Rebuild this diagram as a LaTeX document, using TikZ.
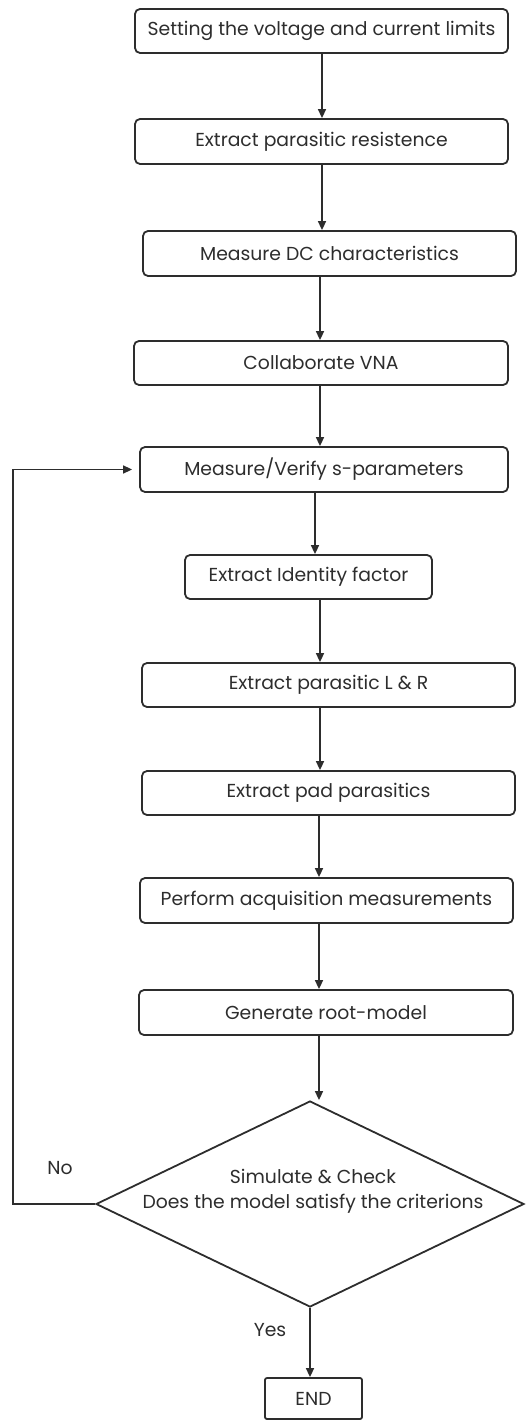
\documentclass[tikz,border=0pt]{standalone}
\usepackage{fontspec}
\setmainfont{Poppins}
\usetikzlibrary{arrows.meta,shapes.geometric}
\definecolor{ink}{RGB}{45,45,45}
\tikzset{
  stepbox/.style={draw=ink, text=ink, line width=0.9pt, rounded corners=2.5pt, inner sep=0pt, align=center, font=\fontsize{9.4}{11}\selectfont},
  flow/.style={draw=ink, line width=0.8pt, -{Triangle[length=4.5pt,width=4pt]}},
  lbl/.style={text=ink, font=\fontsize{9.4}{12.5}\selectfont, inner sep=0pt}
}
\begin{document}
\begin{tikzpicture}[x=0.5pt,y=-0.5pt]
\useasboundingbox (0,0) rectangle (531,1422);
\node[stepbox, minimum width=186.5pt, minimum height=22pt] (b1) at (321.5,31) {Setting the voltage and current limits};
\node[stepbox, minimum width=186.5pt, minimum height=22.5pt] (b2) at (321.5,141.5) {Extract parasitic resistence};
\node[stepbox, minimum width=186.5pt, minimum height=22.5pt] (b3) at (329.5,253.5) {Measure DC characteristics};
\node[stepbox, minimum width=187pt, minimum height=22pt] (b4) at (321,363) {Collaborate VNA};
\node[stepbox, minimum width=184pt, minimum height=22.5pt] (b5) at (324,469.5) {Measure/Verify s-parameters};
\node[stepbox, minimum width=123.5pt, minimum height=22pt] (b6) at (308.5,577) {Extract Identity factor};
\node[stepbox, minimum width=186.5pt, minimum height=22pt] (b7) at (328.5,685) {Extract parasitic L \& R};
\node[stepbox, minimum width=186.5pt, minimum height=22pt] (b8) at (328.5,793) {Extract pad parasitics};
\node[stepbox, minimum width=186.5pt, minimum height=22.5pt] (b9) at (326.5,900.5) {Perform acquisition measurements};
\node[stepbox, minimum width=187pt, minimum height=22.5pt] (b10) at (326,1012.5) {Generate root-model};
\node[diamond, draw=ink, line width=0.9pt, inner sep=0pt, minimum width=214pt, minimum height=103pt] (dia) at (310,1204) {};
\node[lbl, align=center] (dt) at (313,1191) {Simulate \& Check\\Does the model satisfy the criterions};
\node[stepbox, rounded corners=1pt, minimum width=48.5pt, minimum height=20.5pt] (end) at (313.5,1398.5) {END};
\node[lbl] (no) at (60,1168) {No};
\node[lbl] (yes) at (270,1330) {Yes};
\coordinate (c1) at (13,1204);
\draw[flow] (b1.south -| 322,0) -- (b2.north -| 322,0);
\draw[flow] (b2.south -| 322,0) -- (b3.north -| 322,0);
\draw[flow] (b3.south -| 320,0) -- (b4.north -| 320,0);
\draw[flow] (b4.south -| 320,0) -- (b5.north -| 320,0);
\draw[flow] (b5.south -| 315,0) -- (b6.north -| 315,0);
\draw[flow] (b6.south -| 320,0) -- (b7.north -| 320,0);
\draw[flow] (b7.south -| 320,0) -- (b8.north -| 320,0);
\draw[flow] (b8.south -| 319,0) -- (b9.north -| 319,0);
\draw[flow] (b9.south -| 319,0) -- (b10.north -| 319,0);
\draw[flow] (b10.south -| 319,0) -- (dia.north -| 319,0);
\draw[flow] (dia.south -| 310,0) -- (end.north -| 310,0);
\draw[flow, shorten >=3.5pt] (dia.west) -- (c1) |- (b5.west);
\end{tikzpicture}
\end{document}
